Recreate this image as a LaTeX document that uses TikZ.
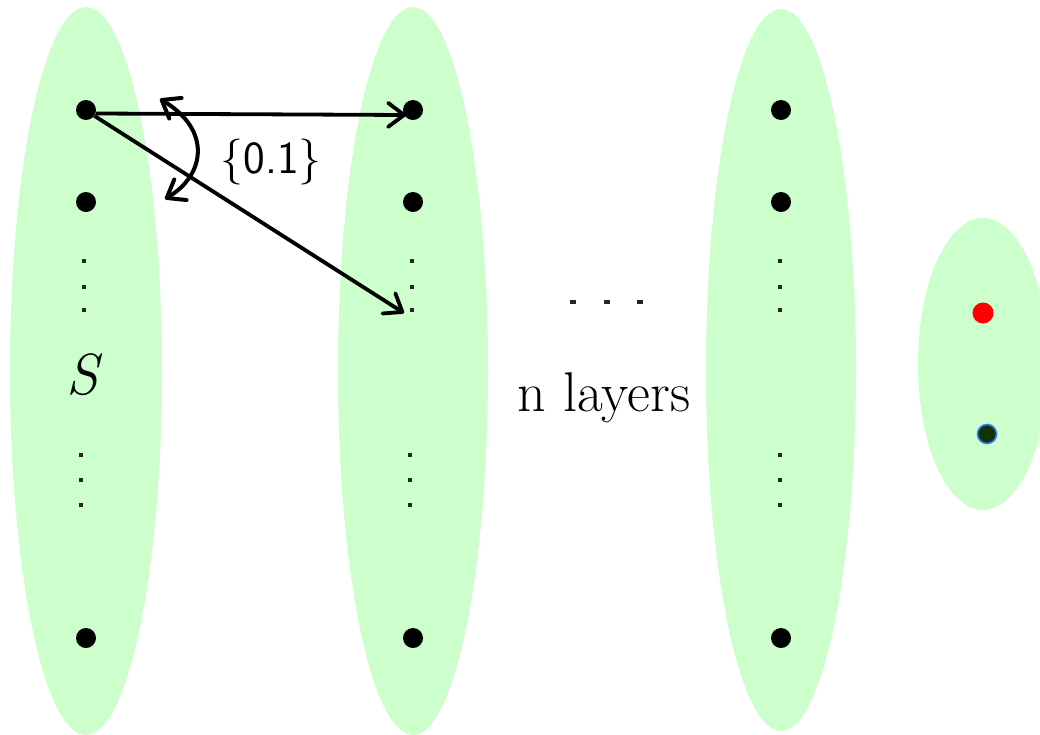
\documentclass[tikz,border=0pt]{standalone}
\usetikzlibrary{shapes.geometric,arrows.meta}
\definecolor{layergreen}{HTML}{CCFFCC}
\definecolor{darkdot}{HTML}{113300}
\definecolor{blueedge}{HTML}{3377FF}
\begin{document}
\begin{tikzpicture}[x=1pt,y=-1pt,
  layer/.style={ellipse,fill=layergreen,draw=none,inner sep=0pt},
  neuron/.style={circle,fill=black,inner sep=0pt,minimum size=20pt},
  vdot/.style={fill=black!85,inner sep=0pt,minimum width=3.5pt,minimum height=3.5pt},
  hdot/.style={fill=black!85,inner sep=0pt,minimum width=6pt,minimum height=3.5pt},
  tipstyle/.style={},
  conn/.style={line width=3.8pt,-{Straight Barb[length=16pt,width=24pt,line width=3.8pt,round]}},
  curvearrow/.style={line width=4pt,{Straight Barb[length=16pt,width=24pt,line width=4pt,round]}-{Straight Barb[length=16pt,width=24pt,line width=4pt,round]}}]
\useasboundingbox (0,0) rectangle (1040,734);
% layers
\node[layer,minimum width=152pt,minimum height=728pt] (L1) at (86,371) {};
\node[layer,minimum width=150pt,minimum height=728pt] (L2) at (413,371) {};
\node[layer,minimum width=150pt,minimum height=722pt] (L3) at (781,370) {};
\node[layer,minimum width=130pt,minimum height=292pt] (L4) at (983,364) {};
% neurons
\foreach \c/\x in {a/86,b/413,c/781}{
  \node[neuron] (\c1) at (\x,110) {};
  \node[neuron] (\c2) at (\x,202) {};
  \node[neuron] (\c3) at (\x,638) {};
}
% vertical ellipses
\foreach \c/\x in {a/84,b/412,c/780}{
  \node[vdot] (\c u1) at (\x,261) {};
  \node[vdot] (\c u2) at (\x,287) {};
  \node[vdot] (\c u3) at (\x,310) {};
}
\foreach \c/\x in {a/81,b/410,c/780}{
  \node[vdot] (\c d1) at (\x,455) {};
  \node[vdot] (\c d2) at (\x,480) {};
  \node[vdot] (\c d3) at (\x,505) {};
}
% horizontal ellipsis
\node[hdot] (h1) at (573,302) {};
\node[hdot] (h2) at (607,302) {};
\node[hdot] (h3) at (640,302) {};
% texts
\node (S) at (82,375) {\fontsize{58}{66}\selectfont\itshape S};
\node (nl) at (604,398) {\fontsize{56}{66}\selectfont n layers};
\node (lab) at (271,162) {\fontsize{46}{54}\selectfont\sffamily\{0.1\}};
% output nodes
\node[circle,fill=red,inner sep=0pt,minimum size=21pt] (o1) at (983,313) {};
\node[circle,fill=darkdot,draw=blueedge,line width=1.6pt,inner sep=0pt,minimum size=19pt] (o2) at (987,434) {};
% connectors
\coordinate (t1) at (406,115);
\coordinate (t2) at (404,313);
\draw[conn] (a1.-20) -- (t1);
\draw[conn] (a1.-35) -- (t2);
\coordinate (c1) at (160,99);
\coordinate (c2) at (165,199);
\draw[curvearrow] (c1) .. controls (212,130) and (205,175) .. (c2);
\end{tikzpicture}
\end{document}
